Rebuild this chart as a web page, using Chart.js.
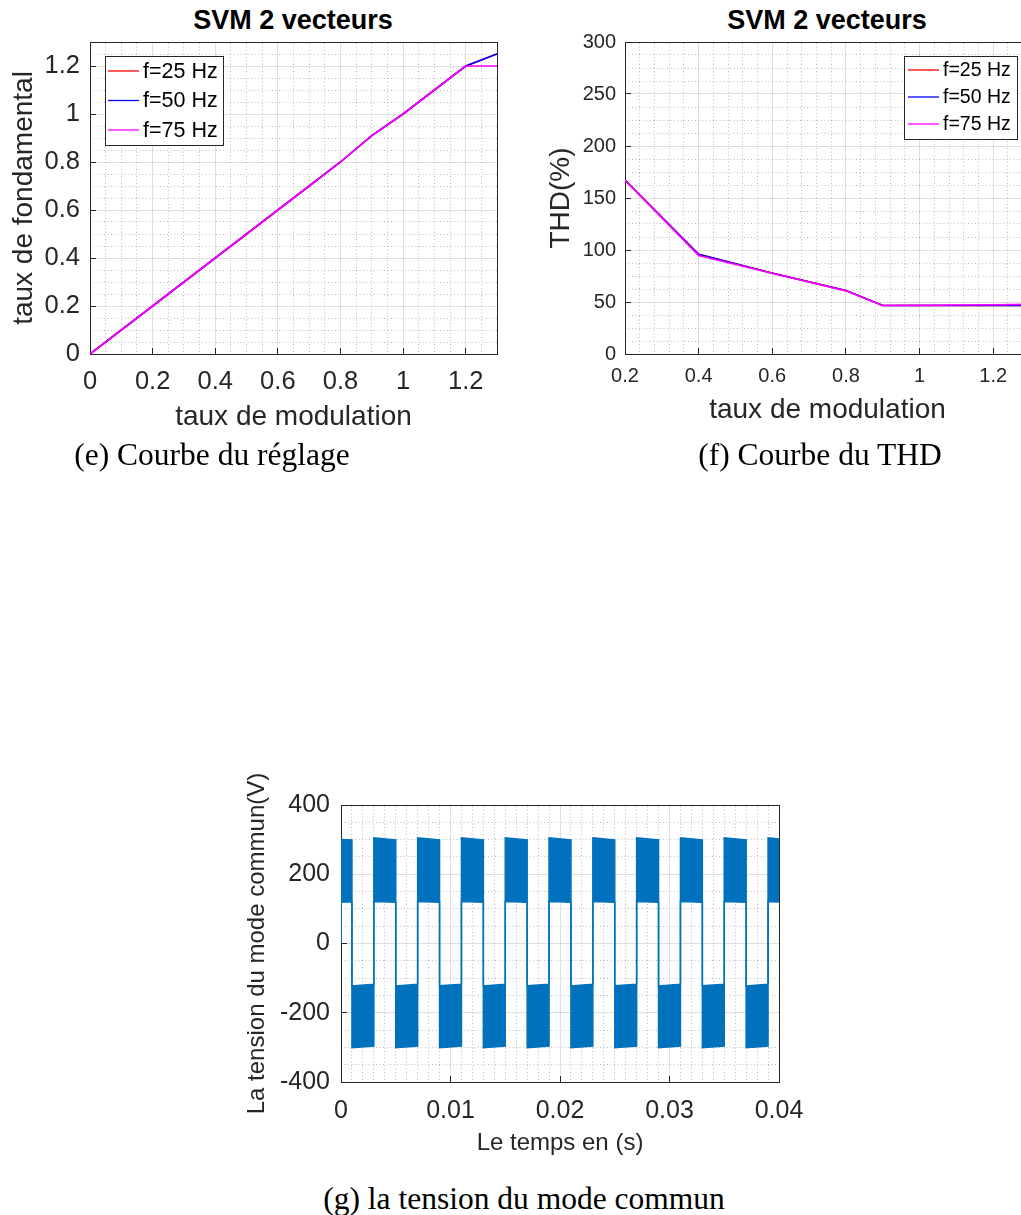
<!DOCTYPE html>
<html>
<head>
<meta charset="utf-8">
<script src="https://cdn.jsdelivr.net/npm/chart.js@4.4.0/dist/chart.umd.min.js"></script>
<style>
  html, body { margin: 0; padding: 0; width: 1021px; height: 1215px; overflow: hidden; background: #fff; }
  .abs { position: absolute; }
  .ttl { font-family: 'Liberation Sans', Arial, sans-serif; font-weight: bold; font-size: 27px; color: #000; text-align: center; line-height: 34px; white-space: nowrap; }
  .cap { font-family: 'Liberation Serif', 'Times New Roman', serif; font-size: 31.5px; color: #000; text-align: center; line-height: 36px; white-space: nowrap; }
</style>
</head>
<body>
<div class="abs ttl" style="left:93px; top:3px; width:400px;">SVM 2 vecteurs</div>
<div class="abs ttl" style="left:627px; top:3px; width:400px;">SVM 2 vecteurs</div>
<div class="abs" style="left:0px; top:0px; width:510px; height:440px;"><canvas id="chartE" width="510" height="440"></canvas></div>
<div class="abs" style="left:510px; top:0px; width:530px; height:440px;"><canvas id="chartF" width="530" height="440"></canvas></div>
<div class="abs" style="left:240px; top:760px; width:600px; height:410px;"><canvas id="chartG" width="600" height="410"></canvas></div>
<div class="abs cap" style="left:12px; top:437px; width:400px;">(e) Courbe du réglage</div>
<div class="abs cap" style="left:620px; top:437px; width:400px;">(f) Courbe du THD</div>
<div class="abs cap" style="left:274px; top:1181px; width:500px;">(g) la tension du mode commun</div>
<script>
// ---------------- DATA ----------------
const seriesLabels = ['f=25 Hz', 'f=50 Hz', 'f=75 Hz'];
const seriesColors = ['#ff0000', '#0000ff', '#ff00ff'];

// (e) Courbe du réglage
const modulationE   = [0, 0.1, 0.2, 0.3, 0.4, 0.5, 0.6, 0.7, 0.8, 0.9, 1.0, 1.1, 1.2, 1.3];
const fondamental25 = [0, 0.1, 0.2, 0.3, 0.4, 0.5, 0.6, 0.7, 0.8, 0.91, 1.0, 1.1, 1.2, 1.25];
const fondamental50 = [0, 0.1, 0.2, 0.3, 0.4, 0.5, 0.6, 0.7, 0.8, 0.91, 1.0, 1.1, 1.2, 1.25];
const fondamental75 = [0, 0.1, 0.2, 0.3, 0.4, 0.5, 0.6, 0.7, 0.8, 0.91, 1.0, 1.1, 1.2, 1.2];

// (f) Courbe du THD
const modulationF = [0.2, 0.4, 0.6, 0.8, 0.9, 1.0, 1.1, 1.2, 1.3];
const thd25 = [167.3, 95.8, 77.8, 61.0, 46.6, 46.6, 46.6, 46.7, 46.7];
const thd50 = [167.3, 95.8, 77.7, 61.0, 46.6, 46.6, 46.6, 46.6, 46.7];
const thd75 = [167.2, 94.8, 77.6, 60.7, 46.6, 46.8, 47.1, 47.4, 47.7];

// (g) tension du mode commun : PWM bands (envelope per block)
const gStartValue  = 0;
const gBlockStart  = [0, 0.001, 0.003, 0.005, 0.007, 0.009, 0.011, 0.013, 0.015, 0.017, 0.019, 0.021, 0.023, 0.025, 0.027, 0.029, 0.031, 0.033, 0.035, 0.037, 0.039];
const gBlockEnd    = [0.001, 0.003, 0.005, 0.007, 0.009, 0.011, 0.013, 0.015, 0.017, 0.019, 0.021, 0.023, 0.025, 0.027, 0.029, 0.031, 0.033, 0.035, 0.037, 0.039, 0.040];
const gTopStart    = [300, -123, 305, -123, 305, -122, 305, -123, 305, -122, 305, -123, 305, -122, 305, -123, 305, -122, 305, -123, 305];
const gTopEnd      = [299, -118, 299, -118, 299, -118, 299, -118, 299, -118, 299, -118, 299, -118, 299, -118, 299, -118, 299, -118, 302];
const gBottomStart = [120, -301, 121, -301, 121, -301, 121, -301, 121, -301, 121, -301, 121, -301, 121, -301, 121, -301, 121, -301, 121];
const gBottomEnd   = [120, -296, 119, -296, 119, -296, 119, -296, 119, -296, 119, -296, 119, -296, 119, -296, 119, -296, 119, -296, 120];

// ---------------- STYLE / HELPERS ----------------
Chart.defaults.font.family = "'Liberation Sans', Arial, Helvetica, sans-serif";
Chart.defaults.color = '#262626';
Chart.defaults.devicePixelRatio = 1;

const AXIS = '#262626';
const GRID_MAJOR = 'rgba(38,38,38,0.15)';
const GRID_MINOR = 'rgba(38,38,38,0.30)';

function isMultiple(v, step) { const r = v / step; return Math.abs(r - Math.round(r)) < 1e-6; }
function fmt(v) { return String(Number(v.toFixed(6))); }
function noPad(s) { s.paddingLeft = 0; s.paddingRight = 0; s.paddingTop = 0; s.paddingBottom = 0; }

function makeScales(c) {
  return {
    x: {
      type: 'linear', position: 'bottom', min: c.xMin, max: c.xMax,
      ticks: { stepSize: c.xStep, includeBounds: false, autoSkip: false, maxRotation: 0, minRotation: 0,
               padding: c.xTickPad, color: AXIS, font: { size: c.tickSize }, callback: v => fmt(v) },
      grid: { color: GRID_MAJOR, lineWidth: 1, tickLength: -6, tickColor: AXIS, tickWidth: 1 },
      border: { color: AXIS, width: 1 },
      title: { display: true, text: c.xTitle, color: AXIS, font: { size: c.labelSize }, padding: { top: 0, bottom: c.xTitlePad } },
      afterFit: s => { s.height = c.xAxisH; noPad(s); }
    },
    y: {
      type: 'linear', position: 'left', min: c.yMin, max: c.yMax,
      ticks: { stepSize: c.yStep, includeBounds: false, autoSkip: false,
               padding: c.yTickPad, color: AXIS, font: { size: c.tickSize }, callback: v => fmt(v) },
      grid: { color: GRID_MAJOR, lineWidth: 1, tickLength: -6, tickColor: AXIS, tickWidth: 1 },
      border: { color: AXIS, width: 1 },
      title: { display: true, text: c.yTitle, color: AXIS, font: { size: c.labelSize }, padding: { top: c.yTitlePad, bottom: 0 } },
      afterFit: s => { s.width = c.yAxisW; noPad(s); }
    },
    x2: {
      type: 'linear', axis: 'x', position: 'top', min: c.xMin, max: c.xMax,
      ticks: { display: false, stepSize: c.xMinor, includeBounds: false, autoSkip: false },
      grid: { drawTicks: false, lineWidth: 1,
              color: ctx => (ctx.tick && isMultiple(ctx.tick.value, c.xStep)) ? 'rgba(0,0,0,0)' : GRID_MINOR },
      border: { display: true, color: AXIS, width: 1, dash: [1, 2.5] },
      afterFit: s => { s.height = 0; noPad(s); }
    },
    y2: {
      type: 'linear', axis: 'y', position: 'right', min: c.yMin, max: c.yMax,
      ticks: { display: false, stepSize: c.yMinor, includeBounds: false, autoSkip: false },
      grid: { drawTicks: false, lineWidth: 1,
              color: ctx => (ctx.tick && isMultiple(ctx.tick.value, c.yStep)) ? 'rgba(0,0,0,0)' : GRID_MINOR },
      border: { display: true, color: AXIS, width: 1, dash: [1, 2.5] },
      afterFit: s => { s.width = 0; noPad(s); }
    }
  };
}

const insideLegend = {
  id: 'insideLegend',
  afterDatasetsDraw(chart, args, o) {
    if (!o || !o.enabled) return;
    const { ctx, chartArea } = chart;
    const x = o.anchor === 'right' ? chartArea.right - o.offsetX - o.width : chartArea.left + o.offsetX;
    const y = chartArea.top + o.offsetY;
    ctx.save();
    ctx.fillStyle = '#ffffff';
    ctx.fillRect(x, y, o.width, o.height);
    ctx.strokeStyle = AXIS; ctx.lineWidth = 1;
    ctx.strokeRect(Math.round(x) + 0.5, Math.round(y) + 0.5, o.width, o.height);
    chart.data.datasets.forEach((ds, i) => {
      const ry = y + o.firstRow + i * o.rowGap;
      ctx.strokeStyle = ds.borderColor; ctx.lineWidth = 1.3;
      ctx.beginPath(); ctx.moveTo(x + o.lineStart, ry); ctx.lineTo(x + o.lineEnd, ry); ctx.stroke();
      ctx.fillStyle = '#000'; ctx.font = o.fontSize + "px 'Liberation Sans', Arial, sans-serif";
      ctx.textBaseline = 'middle'; ctx.textAlign = 'left';
      ctx.fillText(ds.label, x + o.textStart, ry + 1);
    });
    ctx.restore();
  }
};

function lineDatasets(xs, seriesList) {
  return seriesList.map((vals, i) => ({
    label: seriesLabels[i],
    data: xs.map((x, k) => ({ x: x, y: vals[k] })),
    borderColor: seriesColors[i], backgroundColor: seriesColors[i],
    borderWidth: 1.6, pointRadius: 0, tension: 0, fill: false,
    order: seriesList.length - 1 - i   // later series drawn on top, as in MATLAB
  }));
}

// ---------------- CHART (e) ----------------
new Chart(document.getElementById('chartE'), {
  type: 'line',
  data: { datasets: lineDatasets(modulationE, [fondamental25, fondamental50, fondamental75]) },
  options: {
    responsive: false, animation: false, events: [],
    layout: { padding: { top: 42, right: 13, bottom: 0, left: 0 } },
    plugins: { legend: { display: false }, tooltip: { enabled: false },
      insideLegend: { enabled: true, anchor: 'left', offsetX: 15, offsetY: 14, width: 118, height: 89,
                      firstRow: 15, rowGap: 29.5, lineStart: 3, lineEnd: 34, textStart: 38, fontSize: 21.5 } },
    scales: makeScales({ xMin: 0, xMax: 1.3, xStep: 0.2, xMinor: 0.05, yMin: 0, yMax: 1.3, yStep: 0.2, yMinor: 0.05,
      tickSize: 25.5, labelSize: 28, xTitle: 'taux de modulation', yTitle: 'taux de fondamental',
      xTickPad: 19, yTickPad: 16, xTitlePad: 6.3, yTitlePad: 7.5, xAxisH: 86, yAxisW: 90 })
  },
  plugins: [insideLegend]
});

// ---------------- CHART (f) ----------------
new Chart(document.getElementById('chartF'), {
  type: 'line',
  data: { datasets: lineDatasets(modulationF, [thd25, thd50, thd75]) },
  options: {
    responsive: false, animation: false, events: [],
    layout: { padding: { top: 42, right: 10, bottom: 0, left: 0 } },
    plugins: { legend: { display: false }, tooltip: { enabled: false },
      insideLegend: { enabled: true, anchor: 'right', offsetX: 13, offsetY: 14, width: 113, height: 83,
                      firstRow: 14, rowGap: 27, lineStart: 4, lineEnd: 35, textStart: 39, fontSize: 19.5 } },
    scales: makeScales({ xMin: 0.2, xMax: 1.3, xStep: 0.2, xMinor: 0.04, yMin: 0, yMax: 300, yStep: 50, yMinor: 12.5,
      tickSize: 20, labelSize: 28, xTitle: 'taux de modulation', yTitle: 'THD(%)',
      xTickPad: 16.7, yTickPad: 15, xTitlePad: 13.3, yTitlePad: 34.3, xAxisH: 86, yAxisW: 115 })
  },
  plugins: [insideLegend]
});

// ---------------- CHART (g) ----------------
const gUpper = [{ x: gBlockStart[0], y: gStartValue }];
const gLower = [{ x: gBlockStart[0], y: gStartValue }];
gBlockStart.forEach((t0, i) => {
  gUpper.push({ x: t0, y: gTopStart[i] }, { x: gBlockEnd[i], y: gTopEnd[i] });
  gLower.push({ x: t0, y: gBottomStart[i] }, { x: gBlockEnd[i], y: gBottomEnd[i] });
});
const BLUE = '#0072BD';
new Chart(document.getElementById('chartG'), {
  type: 'line',
  data: { datasets: [
    { label: 'enveloppe haute', data: gUpper, borderColor: BLUE, backgroundColor: BLUE, borderWidth: 1.5, pointRadius: 0, tension: 0, fill: false },
    { label: 'enveloppe basse', data: gLower, borderColor: BLUE, backgroundColor: BLUE, borderWidth: 1.5, pointRadius: 0, tension: 0, fill: '-1' }
  ] },
  options: {
    responsive: false, animation: false, events: [],
    layout: { padding: { top: 45, right: 61, bottom: 0, left: 0 } },
    plugins: { legend: { display: false }, tooltip: { enabled: false }, filler: { propagate: false } },
    scales: makeScales({ xMin: 0, xMax: 0.04, xStep: 0.01, xMinor: 0.001, yMin: -400, yMax: 400, yStep: 200, yMinor: 50,
      tickSize: 25, labelSize: 24, xTitle: 'Le temps en (s)', yTitle: 'La tension du mode commun(V)',
      xTickPad: 20, yTickPad: 17, xTitlePad: 12.3, yTitlePad: 2.7, xAxisH: 88, yAxisW: 101 })
  }
});
</script>
</body>
</html>
